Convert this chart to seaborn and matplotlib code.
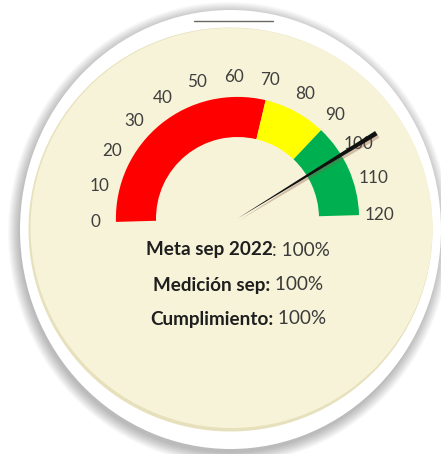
import numpy as np
import matplotlib
matplotlib.use("Agg")
import matplotlib.pyplot as plt
import matplotlib.transforms as mtransforms
from matplotlib.patches import Ellipse
import seaborn as sns

# ---------------- data ----------------
scale_min, scale_max = 0, 120
tick_values = [0, 10, 20, 30, 40, 50, 60, 70, 80, 90, 100, 110, 120]
tick_labels = [str(v) for v in tick_values]
band_starts = [0, 70, 90]
band_ends = [70, 90, 120]
band_colors = ["#FF0000", "#FFFF00", "#00B050"]
needle_value = 100
info_bold = ["Meta sep 2022", "Medición sep:", "Cumplimiento:"]
info_regular = [": 100%", " 100%", " 100%"]

# ---------------- style ----------------
sns.set_theme(style="white")
plt.rcParams["font.family"] = ["Lato", "DejaVu Sans"]

W, H = 441, 454
fig = plt.figure(figsize=(W / 100, H / 100), dpi=100)
fig.patch.set_facecolor("white")

# background axes in pixel coordinates
bg = fig.add_axes([0, 0, 1, 1])
bg.set_xlim(0, W)
bg.set_ylim(H, 0)
bg.set_axis_off()

# soft drop shadow
for i in range(12):
    bg.add_patch(Ellipse((229, 233), 420 + 2.0 * i, 440 + 2.0 * i,
                         facecolor="black", edgecolor="none", alpha=0.022, zorder=1))
# white rim
bg.add_patch(Ellipse((230.5, 229.5), 421, 439, facecolor="white", edgecolor="none", zorder=2))
# inner recessed edge
bg.add_patch(Ellipse((230.5, 229.5), 404, 404, facecolor="#E6E0BC", edgecolor="none", zorder=3))
# cream face
bg.add_patch(Ellipse((231.5, 228), 402, 400, facecolor="#F7F3D8", edgecolor="none", zorder=4))
# small dark stroke at top edge
bg.plot([194, 273], [21, 21], color="#6A6A60", lw=1.0, solid_capstyle="round", zorder=5)

# ---------------- gauge (polar axes) ----------------
cx, cy = 237.5, 218.5
AX_R = 175
R_OUT, R_IN = 121.6, 81.5
LABEL_R = 142
NEEDLE_LEN = 163

ax = fig.add_axes([(cx - AX_R) / W, 1 - (cy + AX_R) / H, 2 * AX_R / W, 2 * AX_R / H],
                  projection="polar")
ax.set_ylim(0, AX_R)
ax.set_theta_offset(np.deg2rad(1.6))
ax.set_axis_off()


def val2theta(v):
    return np.pi * (1 - (np.asarray(v, dtype=float) - scale_min) / (scale_max - scale_min))


th0 = val2theta(band_starts)
th1 = val2theta(band_ends)
ax.bar((th0 + th1) / 2, R_OUT - R_IN, width=np.abs(th0 - th1), bottom=R_IN,
       color=band_colors, edgecolor="none", linewidth=0, zorder=2)

for v, lab in zip(tick_values, tick_labels):
    ax.text(val2theta(v), LABEL_R, lab, ha="center", va="center",
            fontsize=12.3, color="#3F3F3F", zorder=3)

# needle (tapered) with soft shadow
tn = float(val2theta(needle_value))
d = 2.4 / NEEDLE_LEN
shadow_tr = mtransforms.offset_copy(ax.transData, fig=fig, x=1.5, y=-2.0, units="dots")
ax.fill([tn, tn + d * 1.3, tn - d * 1.3], [0, NEEDLE_LEN, NEEDLE_LEN],
        color="#8A5A48", alpha=0.35, lw=0, transform=shadow_tr, zorder=4, clip_on=False)
ax.fill([tn, tn + d, tn - d], [0, NEEDLE_LEN, NEEDLE_LEN],
        color="#111111", lw=0, zorder=5, clip_on=False)

# ---------------- info text ----------------
line_y = [250, 285, 319]
renderer = fig.canvas.get_renderer()
for y, b, r in zip(line_y, info_bold, info_regular):
    t1 = bg.text(0, y, b, fontsize=13.6, fontweight="bold", color="#1E1E1E",
                 ha="left", va="center", zorder=6)
    t2 = bg.text(0, y, r, fontsize=13.6, color="#3A3A3A",
                 ha="left", va="center", zorder=6)
    w1 = t1.get_window_extent(renderer).width
    w2 = t2.get_window_extent(renderer).width
    x0 = 238 - (w1 + w2) / 2
    t1.set_x(x0)
    t2.set_x(x0 + w1)

fig.savefig("out.png", dpi=100)
